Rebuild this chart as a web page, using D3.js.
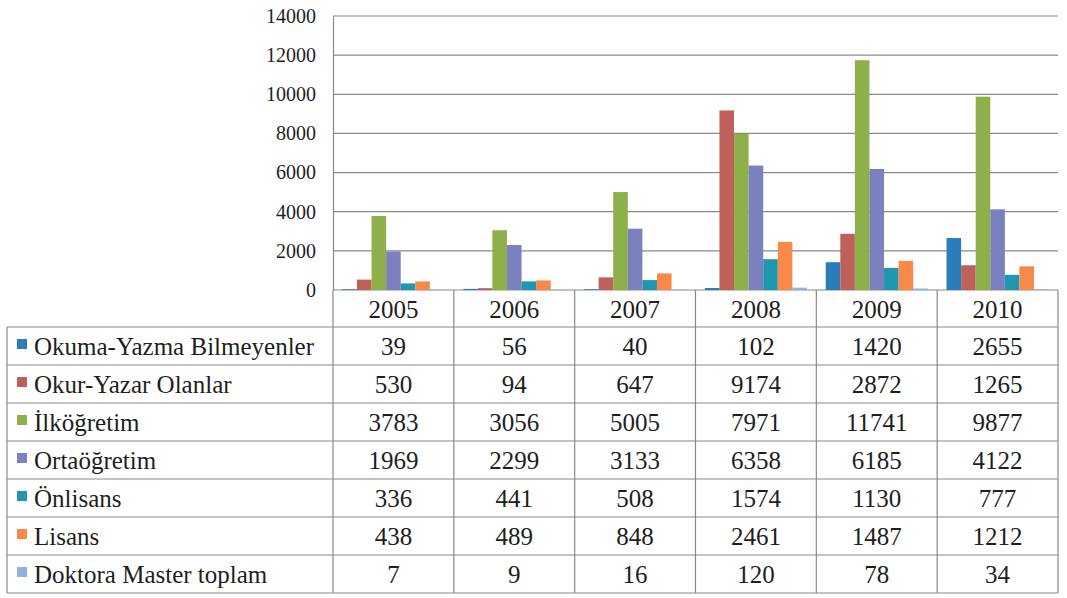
<!DOCTYPE html>
<html><head><meta charset="utf-8">
<script src="https://cdnjs.cloudflare.com/ajax/libs/d3/7.8.5/d3.min.js"></script>
</head><body style="margin:0">
<svg id="c" width="1067" height="598" font-family="Liberation Serif"></svg>
<script>
const years = ["2005","2006","2007","2008","2009","2010"];
const seriesNames = ["Okuma-Yazma Bilmeyenler","Okur-Yazar Olanlar","İlköğretim","Ortaöğretim","Önlisans","Lisans","Doktora Master toplam"];
const okumaYazmaBilmeyenler = [39,56,40,102,1420,2655];
const okurYazarOlanlar = [530,94,647,9174,2872,1265];
const ilkogretim = [3783,3056,5005,7971,11741,9877];
const ortaogretim = [1969,2299,3133,6358,6185,4122];
const onlisans = [336,441,508,1574,1130,777];
const lisans = [438,489,848,2461,1487,1212];
const doktoraMaster = [7,9,16,120,78,34];
const yTicks = [0,2000,4000,6000,8000,10000,12000,14000];
const colors = ["#2a7db8","#c0605a","#8db04a","#7b80be","#1f97ae","#f7894a","#8db3e2"];

const values = [okumaYazmaBilmeyenler,okurYazarOlanlar,ilkogretim,ortaogretim,onlisans,lisans,doktoraMaster];
const svg = d3.select("#c");
const pLeft = 333, pRight = 1058, pTop = 16, pBottom = 290;
const FONT = "Liberation Serif";
const gridC = "#8a8a8a";
const textC = "#1e1e1e";

const x = d3.scaleBand().domain(years).range([pLeft,pRight]).paddingInner(0.155).paddingOuter(0.0775);
const xs = d3.scaleBand().domain(d3.range(seriesNames.length)).range([0,x.bandwidth()]);
const y = d3.scaleLinear().domain([0,14000]).range([pBottom,pTop]);

svg.append("g").selectAll("line").data(yTicks).join("line")
  .attr("x1",pLeft).attr("x2",pRight).attr("y1",d=>y(d)).attr("y2",d=>y(d))
  .attr("stroke",gridC).attr("stroke-width",1.2);

const yAxis = d3.axisLeft(y).tickValues(yTicks).tickSize(0).tickPadding(17).tickFormat(d3.format("d"));
const ga = svg.append("g").attr("transform",`translate(${pLeft},0)`).call(yAxis);
ga.attr("font-family",FONT).attr("font-size",20);
ga.select(".domain").attr("stroke",gridC).attr("stroke-width",1.2);
ga.selectAll("text").attr("fill",textC);

const groups = svg.append("g").selectAll("g").data(years).join("g")
  .attr("transform",d=>`translate(${x(d)},0)`);
groups.selectAll("rect").data((d,i)=>values.map((s,k)=>({k,v:s[i]}))).join("rect")
  .attr("x",d=>xs(d.k)).attr("width",xs.bandwidth())
  .attr("y",d=>y(d.v)).attr("height",d=>pBottom-y(d.v))
  .attr("fill",d=>colors[d.k]);

const rowTop = 290, headerH = 37, rowH = 38;
const tableLeft = 7;
const nRows = seriesNames.length;
const tableBottom = rowTop + headerH + nRows*rowH;
const tg = svg.append("g").attr("font-family",FONT).attr("font-size",25).attr("fill",textC);
const lineC = "#8a8a8a";
const colEdges = years.map(d=>x(d)-x.step()*x.paddingInner()/2).concat([pRight]);
colEdges.forEach(cx=>{
  tg.append("line").attr("x1",cx).attr("x2",cx).attr("y1",rowTop).attr("y2",tableBottom).attr("stroke",lineC).attr("stroke-width",1.2);
});
tg.append("line").attr("x1",tableLeft).attr("x2",tableLeft).attr("y1",rowTop+headerH).attr("y2",tableBottom).attr("stroke",lineC).attr("stroke-width",1.2);
for(let r=0;r<=nRows;r++){
  const yy = rowTop+headerH+r*rowH;
  tg.append("line").attr("x1",tableLeft).attr("x2",pRight).attr("y1",yy).attr("y2",yy).attr("stroke",lineC).attr("stroke-width",1.2);
}
tg.selectAll("text.yr").data(years).join("text").attr("class","yr")
  .attr("x",d=>x(d)+x.bandwidth()/2).attr("y",rowTop+headerH/2+9)
  .attr("text-anchor","middle").text(d=>d);
seriesNames.forEach((name,k)=>{
  const cy = rowTop+headerH+k*rowH+rowH/2;
  tg.append("rect").attr("x",17).attr("y",cy-7).attr("width",10).attr("height",10).attr("fill",colors[k]);
  tg.append("text").attr("x",34).attr("y",cy+9).text(name);
  years.forEach((yr,i)=>{
    tg.append("text").attr("x",x(yr)+x.bandwidth()/2).attr("y",cy+9).attr("text-anchor","middle")
      .text(values[k][i]);
  });
});
</script>
</body></html>
